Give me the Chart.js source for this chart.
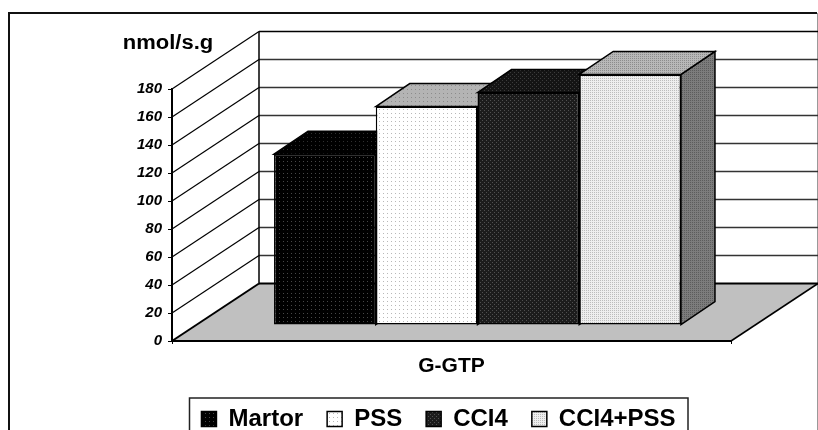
<!DOCTYPE html>
<html>
<head>
<meta charset="utf-8">
<style>
  html, body { margin: 0; padding: 0; background: #fff; overflow: hidden; }
  canvas { display: block; }
</style>
<script src="https://cdn.jsdelivr.net/npm/chart.js@4"></script>
</head>
<body>
<canvas id="chart" width="818" height="430"></canvas>
<script>
const categories = ['G-GTP'];
const seriesNames = ['Martor', 'PSS', 'CCI4', 'CCI4+PSS'];
const martor = [122];
const pss = [156];
const ccl4 = [166];
const ccl4Pss = [179];
const yTicks = [0, 20, 40, 60, 80, 100, 120, 140, 160, 180];

const FONT = '"Liberation Sans", Arial, sans-serif';

// room behind the front axis: wall depth, bar offset and bar depth
const wall = { x: 87, y: -57.5 };
const barShift = { x: 26, y: -16 };
const barDepth = { x: 34, y: -23 };
const legendShift = 8;

function pattern(bg, dot, size, cells) {
    const c = document.createElement('canvas');
    c.width = size;
    c.height = size;
    const g = c.getContext('2d');
    g.fillStyle = bg;
    g.fillRect(0, 0, size, size);
    g.fillStyle = dot;
    cells.forEach(p => g.fillRect(p[0], p[1], 1, 1));
    return g.createPattern(c, 'repeat');
}

const checker = [[0, 0], [2, 2]];
const fronts = [
    pattern('#000000', '#484848', 4, [[1, 1]]),
    pattern('#ffffff', '#b8b8b8', 4, [[1, 1]]),
    pattern('#1c1c1c', '#505050', 4, checker),
    pattern('#eeeeee', '#bcbcbc', 2, [[0, 0]])
];
const tops = [
    pattern('#000000', '#303030', 4, [[1, 1]]),
    pattern('#b4b4b4', '#8c8c8c', 4, [[1, 1]]),
    pattern('#141414', '#3c3c3c', 4, checker),
    pattern('#b8b8b8', '#8c8c8c', 2, [[0, 0]])
];
const sides = [
    pattern('#000000', '#202020', 4, [[1, 1]]),
    pattern('#808080', '#606060', 4, [[1, 1]]),
    pattern('#0c0c0c', '#2c2c2c', 4, checker),
    pattern('#7c7c7c', '#5c5c5c', 2, [[0, 0]])
];

function poly(ctx, pts, fill, stroke, width) {
    ctx.beginPath();
    pts.forEach((p, i) => i ? ctx.lineTo(p[0], p[1]) : ctx.moveTo(p[0], p[1]));
    ctx.closePath();
    if (fill) {
        ctx.fillStyle = fill;
        ctx.fill();
    }
    if (stroke) {
        ctx.strokeStyle = stroke;
        ctx.lineWidth = width;
        ctx.stroke();
    }
}

function line(ctx, x1, y1, x2, y2, color, width) {
    ctx.beginPath();
    ctx.moveTo(x1, y1);
    ctx.lineTo(x2, y2);
    ctx.strokeStyle = color;
    ctx.lineWidth = width;
    ctx.stroke();
}

const room = {
    id: 'room',
    afterLayout(chart) {
        chart.legend.left += legendShift;
        chart.legend.right += legendShift;
    },
    beforeDraw(chart) {
        const ctx = chart.ctx;
        const { left, right } = chart.chartArea;
        const y = chart.scales.y;
        const base = y.getPixelForValue(0);
        const top = y.getPixelForValue(180);
        ctx.save();

        // outer frame, runs off the bottom of the picture
        ctx.strokeStyle = '#111';
        ctx.lineWidth = 2;
        ctx.beginPath();
        ctx.moveTo(9, 432);
        ctx.lineTo(9, 13);
        ctx.lineTo(817, 13);
        ctx.stroke();
        line(ctx, 817.5, 13, 817.5, 432, '#999', 1);

        // floor
        poly(ctx, [[left, base], [left + wall.x, base + wall.y], [right + wall.x, base + wall.y], [right, base]], '#c0c0c0', null);
        line(ctx, left, base, left + wall.x, base + wall.y, '#000', 2);
        line(ctx, right, base, right + wall.x, base + wall.y, '#000', 1.5);

        // gridlines on the side wall and the back wall
        yTicks.forEach(t => {
            const py = y.getPixelForValue(t);
            if (t > 0) line(ctx, left, py, left + wall.x, py + wall.y, '#000', 1.2);
            line(ctx, left + wall.x, py + wall.y, right + wall.x, py + wall.y, t === 0 || t === 180 ? '#000' : '#333', t === 0 ? 2 : 1.5);
        });
        line(ctx, left + wall.x, top + wall.y, left + wall.x, base + wall.y, '#000', 1.5);

        // unit label, the source text is a little wider than the font
        ctx.save();
        ctx.translate(168, 49);
        ctx.scale(1.1, 1);
        ctx.fillStyle = '#000';
        ctx.font = 'bold 20px ' + FONT;
        ctx.textBaseline = 'alphabetic';
        ctx.textAlign = 'center';
        ctx.fillText('nmol/s.g', 0, 0);
        ctx.restore();

        // legend box
        ctx.strokeStyle = '#222';
        ctx.lineWidth = 1.5;
        ctx.strokeRect(189.5, 398, 498.5, 40);
        ctx.restore();
    },
    beforeDatasetsDraw(chart) {
        const ctx = chart.ctx;
        ctx.save();
        ctx.translate(barShift.x, barShift.y);
        // tops and sides go left to right, the front faces then cover them
        chart.data.datasets.forEach((ds, i) => {
            const b = chart.getDatasetMeta(i).data[0];
            const l = b.x - b.width / 2;
            const r = b.x + b.width / 2;
            poly(ctx, [[r, b.y], [r + barDepth.x, b.y + barDepth.y], [r + barDepth.x, b.base + barDepth.y], [r, b.base]], sides[i], '#000', 1.5);
            poly(ctx, [[l, b.y], [l + barDepth.x, b.y + barDepth.y], [r + barDepth.x, b.y + barDepth.y], [r, b.y]], tops[i], '#000', 1.5);
        });
    },
    afterDatasetsDraw(chart) {
        chart.ctx.restore();
    }
};

const seriesValues = [martor, pss, ccl4, ccl4Pss];

new Chart(document.getElementById('chart').getContext('2d'), {
    type: 'bar',
    data: {
        labels: categories,
        datasets: seriesNames.map((name, i) => ({
            label: name,
            data: seriesValues[i],
            backgroundColor: fronts[i],
            borderColor: '#000',
            borderWidth: 1.5,
            borderSkipped: false,
            barPercentage: 1,
            categoryPercentage: 0.728,
            clip: false
        }))
    },
    options: {
        responsive: false,
        animation: false,
        layout: { padding: { left: 130, right: 87, top: 89, bottom: -11 } },
        plugins: {
            tooltip: { enabled: false },
            legend: {
                position: 'bottom',
                labels: {
                    color: '#000',
                    boxWidth: 15,
                    boxHeight: 15,
                    padding: 24,
                    font: { family: FONT, size: 24, weight: 'bold' }
                }
            }
        },
        scales: {
            x: {
                afterFit: s => { s.height = 42; },
                border: { color: '#000', width: 2 },
                grid: { color: '#000', drawOnChartArea: false, tickLength: 3 },
                ticks: { color: '#000', padding: 10, font: { family: FONT, size: 21, weight: 'bold' } }
            },
            y: {
                min: 0,
                max: 180,
                afterFit: s => { s.width = 42; },
                afterBuildTicks: s => { s.ticks = yTicks.map(v => ({ value: v })); },
                border: { color: '#000', width: 2 },
                grid: { color: '#000', drawOnChartArea: false, tickLength: 4 },
                ticks: { color: '#000', padding: 6, font: { family: FONT, size: 15, weight: 'bold', style: 'italic' } }
            }
        }
    },
    plugins: [room]
});
</script>
</body>
</html>
